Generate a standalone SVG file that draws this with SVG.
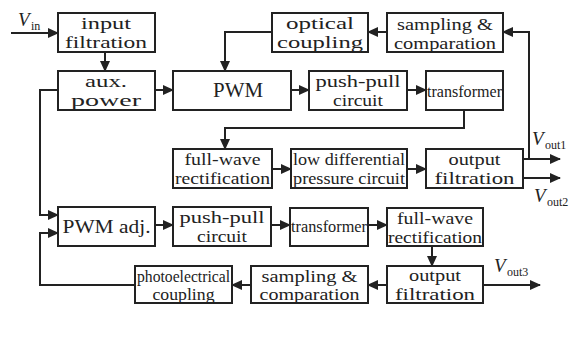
<svg xmlns="http://www.w3.org/2000/svg" width="576" height="338" viewBox="0 0 576 338" font-family="'Liberation Serif', 'DejaVu Serif', 'Times New Roman', serif">
<style>
rect{fill:#fff;stroke:#222;stroke-width:2}
text{font-family:'Liberation Serif','DejaVu Serif','Times New Roman',serif;font-size:17px;fill:#222;text-anchor:middle}
.c path{fill:none;stroke:#222;stroke-width:2;marker-end:url(#a)}
.v{font-style:italic;text-anchor:start}
.s{font-size:12px;text-anchor:start}
</style>
<defs>
<marker id="a" markerUnits="userSpaceOnUse" markerWidth="11" markerHeight="10" refX="10" refY="5" orient="auto">
<path d="M0,0 L11,5 L0,10 z" fill="#222"/>
</marker>
</defs>
<rect width="576" height="338" style="fill:#fff;stroke:none"/>
<g class="c">
<path d="M11,33 H58"/>
<path d="M105,52 V71"/>
<path d="M155,90 H173"/>
<path d="M291,90 H309"/>
<path d="M407,90 H426"/>
<path d="M464,110 V128 H225 V149"/>
<path d="M272,169 H291"/>
<path d="M407,169 H426"/>
<path d="M523,159 H560"/>
<path d="M523,178 H560"/>
<path d="M529,159 V32 H503"/>
<path d="M387,32 H368"/>
<path d="M272,32 H225 V71"/>
<path d="M58,90 H40 V215 H58"/>
<path d="M155,225 H173"/>
<path d="M271,225 H290"/>
<path d="M368,225 H387"/>
<path d="M432,246 V266"/>
<path d="M483,285 H540"/>
<path d="M387,285 H368"/>
<path d="M251,285 H232"/>
<path d="M135,285 H40 V233 H58"/>
</g>
<g id="vin"><text x="18" y="26" class="v" style="font-size:19px">V</text><text x="31" y="30" class="s">in</text></g>
<g id="input"><rect x="58" y="13" width="97" height="39"/><text x="106" y="29" textLength="50" lengthAdjust="spacingAndGlyphs">input</text><text x="106" y="48" textLength="82" lengthAdjust="spacingAndGlyphs">filtration</text></g>
<g id="aux"><rect x="58" y="71" width="97" height="39"/><text x="106" y="87" textLength="42" lengthAdjust="spacingAndGlyphs">aux.</text><text x="106" y="106" textLength="70" lengthAdjust="spacingAndGlyphs">power</text></g>
<g id="pwm"><rect x="173" y="71" width="118" height="39"/><text x="238" y="97" style="font-size:20px" textLength="50" lengthAdjust="spacingAndGlyphs">PWM</text></g>
<g id="optical"><rect x="272" y="13" width="96" height="39"/><text x="320" y="29" textLength="68" lengthAdjust="spacingAndGlyphs">optical</text><text x="320" y="48" textLength="86" lengthAdjust="spacingAndGlyphs">coupling</text></g>
<g id="sampling1"><rect x="387" y="13" width="116" height="39"/><text x="445" y="30" textLength="96" lengthAdjust="spacingAndGlyphs">sampling &amp;</text><text x="445" y="49" textLength="102" lengthAdjust="spacingAndGlyphs">comparation</text></g>
<g id="pushpull1"><rect x="309" y="71" width="98" height="39"/><text x="358" y="87" textLength="85" lengthAdjust="spacingAndGlyphs">push-pull</text><text x="358" y="106" textLength="50" lengthAdjust="spacingAndGlyphs">circuit</text></g>
<g id="transformer1"><rect x="426" y="71" width="77" height="39"/><text x="464.5" y="97" textLength="75" lengthAdjust="spacingAndGlyphs">transformer</text></g>
<g id="fullwave1"><rect x="173" y="149" width="99" height="39"/><text x="222.5" y="165" textLength="76" lengthAdjust="spacingAndGlyphs">full-wave</text><text x="222.5" y="184" textLength="95" lengthAdjust="spacingAndGlyphs">rectification</text></g>
<g id="lowdiff"><rect x="291" y="149" width="116" height="39"/><text x="349" y="165" textLength="112" lengthAdjust="spacingAndGlyphs">low differential</text><text x="349" y="184" textLength="112" lengthAdjust="spacingAndGlyphs">pressure circuit</text></g>
<g id="outfilt1"><rect x="426" y="149" width="97" height="39"/><text x="474.5" y="165" textLength="52" lengthAdjust="spacingAndGlyphs">output</text><text x="474.5" y="184" textLength="80" lengthAdjust="spacingAndGlyphs">filtration</text></g>
<g id="vout1"><text x="532" y="145" class="v" style="font-size:19px">V</text><text x="545" y="149" class="s">out1</text></g>
<g id="vout2"><text x="534" y="202" class="v" style="font-size:19px">V</text><text x="547" y="206" class="s">out2</text></g>
<g id="pwmadj"><rect x="58" y="207" width="97" height="39"/><text x="106.5" y="233" style="font-size:19px" textLength="88" lengthAdjust="spacingAndGlyphs">PWM adj.</text></g>
<g id="pushpull2"><rect x="173" y="207" width="98" height="39"/><text x="222" y="223" textLength="85" lengthAdjust="spacingAndGlyphs">push-pull</text><text x="222" y="242" textLength="50" lengthAdjust="spacingAndGlyphs">circuit</text></g>
<g id="transformer2"><rect x="290" y="208" width="78" height="38"/><text x="329" y="232" textLength="76" lengthAdjust="spacingAndGlyphs">transformer</text></g>
<g id="fullwave2"><rect x="387" y="208" width="96" height="38"/><text x="435" y="224" textLength="76" lengthAdjust="spacingAndGlyphs">full-wave</text><text x="435" y="243" textLength="94" lengthAdjust="spacingAndGlyphs">rectification</text></g>
<g id="outfilt2"><rect x="387" y="266" width="96" height="37"/><text x="435" y="281" textLength="52" lengthAdjust="spacingAndGlyphs">output</text><text x="435" y="300" textLength="80" lengthAdjust="spacingAndGlyphs">filtration</text></g>
<g id="vout3"><text x="494" y="272" class="v" style="font-size:19px">V</text><text x="507" y="276" class="s">out3</text></g>
<g id="sampling2"><rect x="251" y="266" width="117" height="37"/><text x="309.5" y="282" textLength="96" lengthAdjust="spacingAndGlyphs">sampling &amp;</text><text x="309.5" y="300" textLength="100" lengthAdjust="spacingAndGlyphs">comparation</text></g>
<g id="photo"><rect x="135" y="266" width="97" height="37"/><text x="183.5" y="282" textLength="93" lengthAdjust="spacingAndGlyphs">photoelectrical</text><text x="183.5" y="300" textLength="62" lengthAdjust="spacingAndGlyphs">coupling</text></g>
</svg>
